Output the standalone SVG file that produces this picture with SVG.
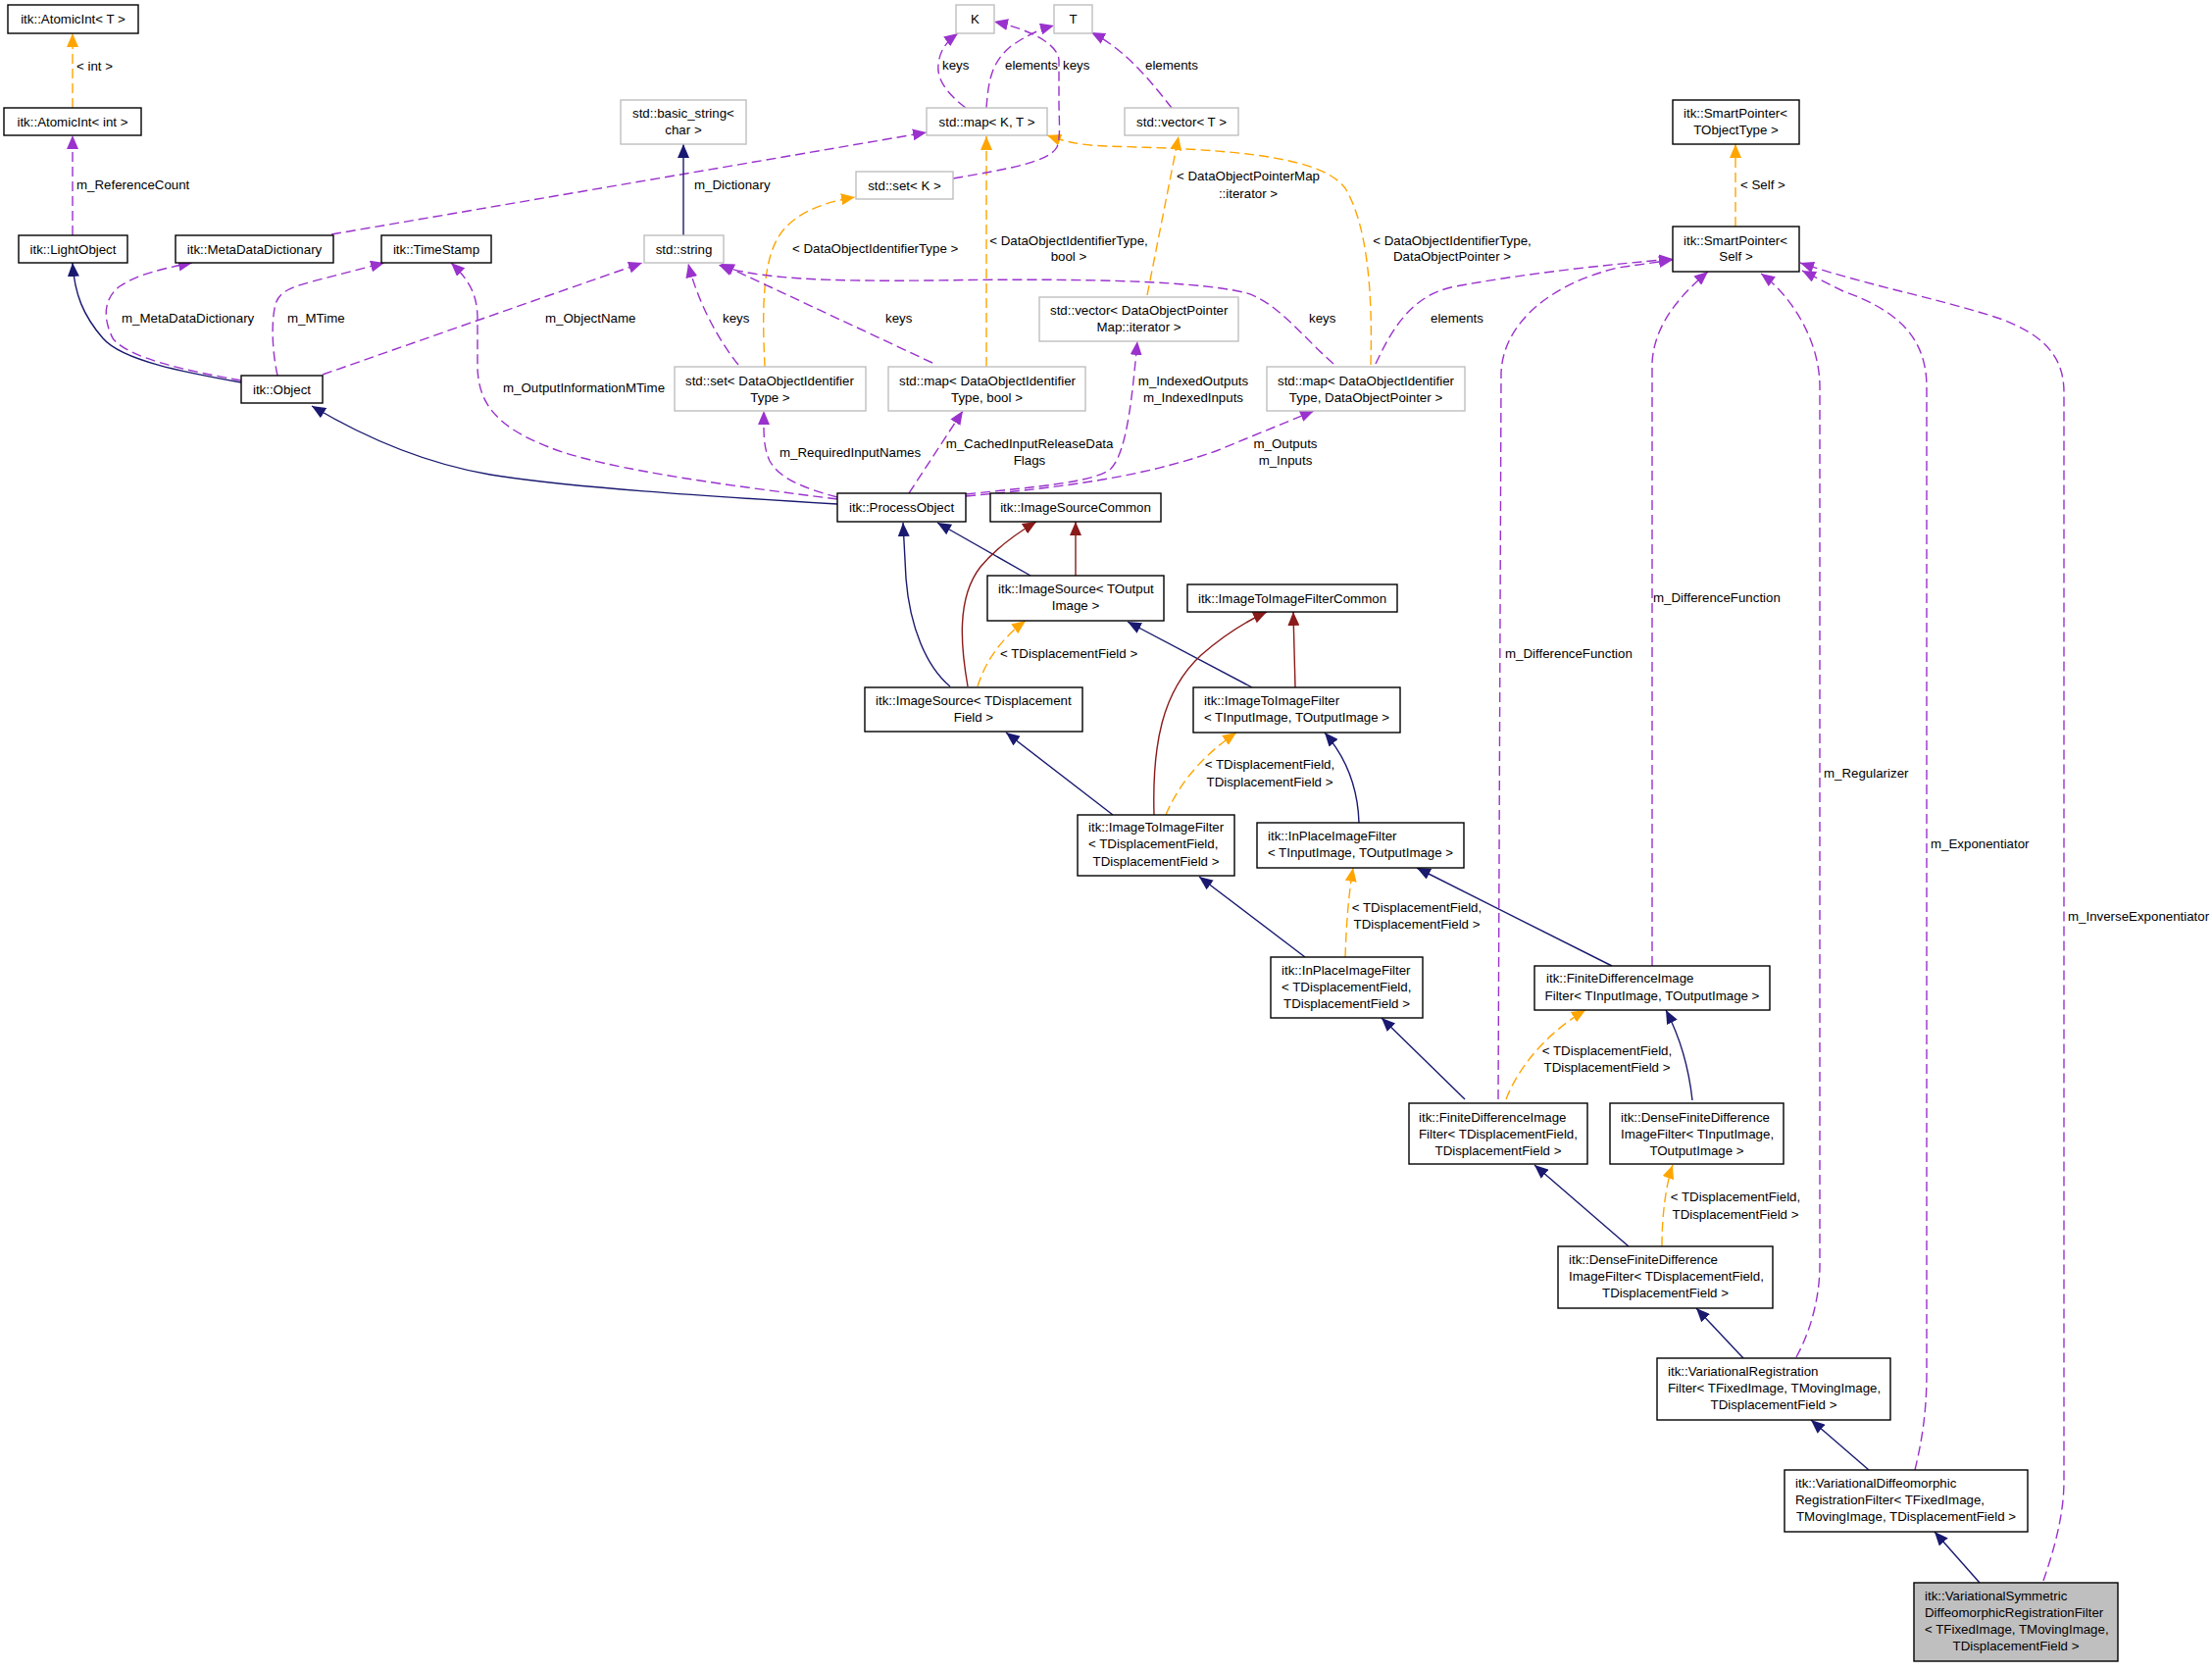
<svg xmlns="http://www.w3.org/2000/svg" width="2256" height="1704" viewBox="0 0 2256 1704">
<style>
text{font-family:"Liberation Sans",Arial,sans-serif;font-size:13.3px;fill:#000}
.c{text-anchor:middle}
.n rect{fill:#fff;stroke:#000;stroke-width:1.4}
.g rect{fill:#fff;stroke:#bfbfbf;stroke-width:1.4}
.s rect{fill:#bfbfbf;stroke:#000;stroke-width:1.4}
.inh{fill:none;stroke:#191970;stroke-width:1.4;marker-end:url(#mb)}
.prv{fill:none;stroke:#8b1a1a;stroke-width:1.4;marker-end:url(#mr)}
.tpl{fill:none;stroke:#ffa500;stroke-width:1.4;stroke-dasharray:10,5;marker-end:url(#mo)}
.use{fill:none;stroke:#9a32cd;stroke-width:1.4;stroke-dasharray:10,5;marker-end:url(#mp)}
</style>
<defs>
<marker id="mb" viewBox="0 0 14 12" refX="14" refY="6" markerWidth="14" markerHeight="12" markerUnits="userSpaceOnUse" orient="auto"><path d="M0,0 L14,6 L0,12 z" fill="#191970"/></marker>
<marker id="mr" viewBox="0 0 14 12" refX="14" refY="6" markerWidth="14" markerHeight="12" markerUnits="userSpaceOnUse" orient="auto"><path d="M0,0 L14,6 L0,12 z" fill="#8b1a1a"/></marker>
<marker id="mo" viewBox="0 0 14 12" refX="14" refY="6" markerWidth="14" markerHeight="12" markerUnits="userSpaceOnUse" orient="auto"><path d="M0,0 L14,6 L0,12 z" fill="#ffa500"/></marker>
<marker id="mp" viewBox="0 0 14 12" refX="14" refY="6" markerWidth="14" markerHeight="12" markerUnits="userSpaceOnUse" orient="auto"><path d="M0,0 L14,6 L0,12 z" fill="#9a32cd"/></marker>
</defs>
<rect width="2256" height="1704" fill="#fff"/>

<g id="connectors">
<path class="tpl" d="M74,110 L74,34"/>
<path class="use" d="M74,240 L74,138"/>
<path class="inh" d="M246,390 C190,380 125,368 105,345 C85,322 76,300 74,268"/>
<path class="use" d="M246,388 C190,378 130,365 115,345 C105,325 105,305 122,292 C140,280 165,274 196,268"/>
<path class="use" d="M283,383 C278,360 276,330 281,310 C286,295 300,292 330,284 L392,268"/>
<path class="use" d="M329,382 L655,268"/>
<path class="inh" d="M854,514 C720,506 580,497 500,484 C430,472 370,445 318,414"/>
<path class="use" d="M854,509 C760,497 620,480 560,456 C505,435 488,410 487,375 L487,325 C487,300 478,285 460,268"/>
<path class="use" d="M854,507 C820,498 795,488 785,470 C778,455 779,440 779,419"/>
<path class="use" d="M927,503 L982,419"/>
<path class="use" d="M985,504 C1060,496 1115,492 1133,478 C1150,460 1155,400 1160,348"/>
<path class="use" d="M985,506 C1080,497 1160,488 1240,460 L1340,419"/>
<path class="tpl" d="M780,374 C778,330 776,275 792,245 C805,220 835,207 872,201"/>
<path class="use" d="M753,372 C735,350 712,310 702,269"/>
<path class="use" d="M951,370 L735,269"/>
<path class="tpl" d="M1006,374 L1006,139"/>
<path class="use" d="M1360,371 C1330,345 1300,305 1268,298 C1210,285 1080,284 950,286 C850,287 770,285 733,270"/>
<path class="use" d="M1403,371 C1420,335 1440,300 1485,292 C1560,278 1640,270 1706,264"/>
<path class="tpl" d="M1398,372 C1400,300 1395,230 1372,192 C1345,155 1230,152 1128,149 C1100,148 1085,144 1068,138"/>
<path class="tpl" d="M1170,301 L1202,139"/>
<path class="use" d="M1195,110 C1175,85 1150,52 1113,33"/>
<path class="use" d="M985,110 C965,95 955,80 957,65 C959,50 966,42 977,34"/>
<path class="use" d="M1006,110 C1008,85 1010,65 1030,48 C1045,37 1060,30 1075,26"/>
<path class="use" d="M972,182 C1030,172 1070,165 1078,150 C1082,140 1080,120 1080,105 L1080,62 C1080,45 1050,30 1014,22"/>
<path class="use" d="M338,239 L945,135"/>
<path class="inh" d="M697,240 L697,147"/>
<path class="tpl" d="M1770,231 L1770,147"/>
<path class="use" d="M1528,1121 L1531,380 C1533,330 1580,290 1650,273 L1706,265"/>
<path class="use" d="M1685,985 L1685,370 C1687,330 1715,300 1742,277"/>
<path class="use" d="M1832,1384 C1848,1355 1856,1320 1856,1290 L1856,395 C1856,345 1825,300 1796,279"/>
<path class="use" d="M1953,1499 C1960,1470 1965,1440 1965,1400 L1965,395 C1965,340 1930,315 1880,297 L1838,276"/>
<path class="use" d="M2084,1612 C2095,1580 2105,1545 2105,1510 L2105,400 C2105,360 2080,340 2040,325 C1980,305 1900,290 1836,268"/>
<path class="inh" d="M1051,587 L956,533"/>
<path class="prv" d="M1097,587 L1097,532"/>
<path class="inh" d="M969,700 C945,680 928,640 924,590 L921,533"/>
<path class="prv" d="M987,700 C980,660 975,610 1000,578 C1015,560 1035,545 1057,532"/>
<path class="tpl" d="M997,700 C1005,675 1020,652 1046,633"/>
<path class="inh" d="M1277,701 L1150,634"/>
<path class="prv" d="M1321,701 L1319,624"/>
<path class="inh" d="M1135,831 L1026,747"/>
<path class="prv" d="M1177,831 C1175,760 1185,705 1225,668 C1248,648 1270,634 1292,624"/>
<path class="tpl" d="M1189,831 C1200,805 1220,775 1261,747"/>
<path class="inh" d="M1386,839 C1385,805 1375,775 1351,747"/>
<path class="inh" d="M1331,976 L1223,894"/>
<path class="tpl" d="M1372,976 C1373,945 1375,915 1380,885"/>
<path class="inh" d="M1644,985 L1445,885"/>
<path class="inh" d="M1494,1121 L1409,1038"/>
<path class="tpl" d="M1536,1121 C1548,1090 1575,1055 1617,1030"/>
<path class="inh" d="M1726,1122 C1722,1085 1712,1055 1699,1030"/>
<path class="inh" d="M1661,1271 L1565,1188"/>
<path class="tpl" d="M1695,1271 C1695,1235 1700,1205 1706,1188"/>
<path class="inh" d="M1778,1385 L1730,1334"/>
<path class="inh" d="M1906,1499 L1847,1448"/>
<path class="inh" d="M2019,1614 L1973,1562"/>
</g>

<g id="edge-labels">
<text x="78" y="72">&lt; int &gt;</text>
<text x="78" y="193">m_ReferenceCount</text>
<text x="124" y="329">m_MetaDataDictionary</text>
<text x="293" y="329">m_MTime</text>
<text x="556" y="329">m_ObjectName</text>
<text x="513" y="400">m_OutputInformationMTime</text>
<text x="961" y="71">keys</text>
<text x="1025" y="71">elements</text>
<text x="1084" y="71">keys</text>
<text x="708" y="193">m_Dictionary</text>
<text x="808" y="258">&lt; DataObjectIdentifierType &gt;</text>
<text class="c" x="1090" y="250">&lt; DataObjectIdentifierType,</text>
<text class="c" x="1090" y="266">bool &gt;</text>
<text x="737" y="329">keys</text>
<text x="903" y="329">keys</text>
<text x="795" y="466">m_RequiredInputNames</text>
<text class="c" x="1050" y="457">m_CachedInputReleaseData</text>
<text class="c" x="1050" y="474">Flags</text>
<text x="1168" y="71">elements</text>
<text class="c" x="1273" y="184">&lt; DataObjectPointerMap</text>
<text class="c" x="1273" y="202">::iterator &gt;</text>
<text class="c" x="1481" y="250">&lt; DataObjectIdentifierType,</text>
<text class="c" x="1481" y="266">DataObjectPointer &gt;</text>
<text x="1335" y="329">keys</text>
<text x="1459" y="329">elements</text>
<text class="c" x="1217" y="393">m_IndexedOutputs</text>
<text class="c" x="1217" y="410">m_IndexedInputs</text>
<text class="c" x="1311" y="457">m_Outputs</text>
<text class="c" x="1311" y="474">m_Inputs</text>
<text x="1775" y="193">&lt; Self &gt;</text>
<text x="1020" y="671">&lt; TDisplacementField &gt;</text>
<text x="1535" y="671">m_DifferenceFunction</text>
<text class="c" x="1295" y="784">&lt; TDisplacementField,</text>
<text class="c" x="1295" y="802">TDisplacementField &gt;</text>
<text class="c" x="1445" y="930">&lt; TDisplacementField,</text>
<text class="c" x="1445" y="947">TDisplacementField &gt;</text>
<text class="c" x="1639" y="1076">&lt; TDisplacementField,</text>
<text class="c" x="1639" y="1093">TDisplacementField &gt;</text>
<text x="1686" y="614">m_DifferenceFunction</text>
<text x="1860" y="793">m_Regularizer</text>
<text x="1969" y="865">m_Exponentiator</text>
<text x="2109" y="939">m_InverseExponentiator</text>
<text class="c" x="1770" y="1225">&lt; TDisplacementField,</text>
<text class="c" x="1770" y="1243">TDisplacementField &gt;</text>
</g>

<g id="AtomicIntT" class="n"><rect x="8" y="5" width="133" height="29"/><text class="c" x="74.5" y="24">itk::AtomicInt&lt; T &gt;</text></g>
<g id="AtomicIntInt" class="n"><rect x="4" y="110" width="140" height="28"/><text class="c" x="74" y="129">itk::AtomicInt&lt; int &gt;</text></g>
<g id="LightObject" class="n"><rect x="19" y="240" width="111" height="28"/><text class="c" x="74.5" y="259">itk::LightObject</text></g>
<g id="MetaDataDictionary" class="n"><rect x="179" y="240" width="161" height="28"/><text class="c" x="259.5" y="259">itk::MetaDataDictionary</text></g>
<g id="TimeStamp" class="n"><rect x="389" y="240" width="112" height="28"/><text class="c" x="445" y="259">itk::TimeStamp</text></g>
<g id="Object" class="n"><rect x="246" y="383" width="83" height="28"/><text class="c" x="287.5" y="402">itk::Object</text></g>
<g id="K" class="g"><rect x="975" y="5" width="39" height="29"/><text class="c" x="994.5" y="24">K</text></g>
<g id="T" class="g"><rect x="1075" y="5" width="39" height="29"/><text class="c" x="1094.5" y="24">T</text></g>
<g id="basic_string" class="g"><rect x="633" y="102" width="128" height="45"/><text x="645" y="120">std::basic_string&lt;</text><text class="c" x="697" y="137">char &gt;</text></g>
<g id="mapKT" class="g"><rect x="945" y="110" width="123" height="28"/><text class="c" x="1006.5" y="129">std::map&lt; K, T &gt;</text></g>
<g id="setK" class="g"><rect x="873" y="175" width="99" height="28"/><text class="c" x="922.5" y="194">std::set&lt; K &gt;</text></g>
<g id="string" class="g"><rect x="657" y="240" width="81" height="28"/><text class="c" x="697.5" y="259">std::string</text></g>
<g id="setDOIT" class="g"><rect x="688" y="374" width="195" height="45"/><text x="699" y="393">std::set&lt; DataObjectIdentifier</text><text class="c" x="785.5" y="410">Type &gt;</text></g>
<g id="mapDOITbool" class="g"><rect x="906" y="374" width="201" height="45"/><text x="917" y="393">std::map&lt; DataObjectIdentifier</text><text class="c" x="1006.5" y="410">Type, bool &gt;</text></g>
<g id="vectorT" class="g"><rect x="1147" y="110" width="116" height="28"/><text class="c" x="1205" y="129">std::vector&lt; T &gt;</text></g>
<g id="vectorDOPMI" class="g"><rect x="1060" y="303" width="203" height="45"/><text x="1071" y="321">std::vector&lt; DataObjectPointer</text><text class="c" x="1161.5" y="338">Map::iterator &gt;</text></g>
<g id="mapDOITDOP" class="g"><rect x="1292" y="374" width="202" height="45"/><text x="1303" y="393">std::map&lt; DataObjectIdentifier</text><text class="c" x="1393" y="410">Type, DataObjectPointer &gt;</text></g>
<g id="SPTObjectType" class="n"><rect x="1706" y="102" width="129" height="45"/><text x="1717" y="120">itk::SmartPointer&lt;</text><text class="c" x="1770.5" y="137">TObjectType &gt;</text></g>
<g id="SPSelf" class="n"><rect x="1706" y="231" width="129" height="46"/><text x="1717" y="250">itk::SmartPointer&lt;</text><text class="c" x="1770.5" y="266">Self &gt;</text></g>
<g id="ProcessObject" class="n"><rect x="854" y="503" width="131" height="29"/><text class="c" x="919.5" y="522">itk::ProcessObject</text></g>
<g id="ImageSourceCommon" class="n"><rect x="1010" y="503" width="174" height="29"/><text class="c" x="1097" y="522">itk::ImageSourceCommon</text></g>
<g id="ImageSourceTOutput" class="n"><rect x="1007" y="587" width="180" height="46"/><text x="1018" y="605">itk::ImageSource&lt; TOutput</text><text class="c" x="1097" y="622">Image &gt;</text></g>
<g id="ITIFCommon" class="n"><rect x="1211" y="596" width="214" height="28"/><text class="c" x="1318" y="615">itk::ImageToImageFilterCommon</text></g>
<g id="ImageSourceTDF" class="n"><rect x="882" y="701" width="222" height="45"/><text x="893" y="719">itk::ImageSource&lt; TDisplacement</text><text class="c" x="993" y="736">Field &gt;</text></g>
<g id="ITIF_TII_TOI" class="n"><rect x="1217" y="701" width="211" height="46"/><text x="1228" y="719">itk::ImageToImageFilter</text><text class="c" x="1322.5" y="736">&lt; TInputImage, TOutputImage &gt;</text></g>
<g id="ITIF_TDF" class="n"><rect x="1099" y="831" width="160" height="62"/><text x="1110" y="848">itk::ImageToImageFilter</text><text x="1110" y="865">&lt; TDisplacementField,</text><text class="c" x="1179" y="883">TDisplacementField &gt;</text></g>
<g id="InPlace_TII_TOI" class="n"><rect x="1282" y="839" width="211" height="46"/><text x="1293" y="857">itk::InPlaceImageFilter</text><text class="c" x="1387.5" y="874">&lt; TInputImage, TOutputImage &gt;</text></g>
<g id="InPlace_TDF" class="n"><rect x="1296" y="976" width="155" height="62"/><text x="1307" y="994">itk::InPlaceImageFilter</text><text x="1307" y="1011">&lt; TDisplacementField,</text><text class="c" x="1373.5" y="1028">TDisplacementField &gt;</text></g>
<g id="FDIF_TII_TOI" class="n"><rect x="1565" y="985" width="240" height="45"/><text x="1577" y="1002">itk::FiniteDifferenceImage</text><text class="c" x="1685" y="1020">Filter&lt; TInputImage, TOutputImage &gt;</text></g>
<g id="FDIF_TDF" class="n"><rect x="1437" y="1125" width="182" height="62"/><text x="1447" y="1144">itk::FiniteDifferenceImage</text><text x="1447" y="1161">Filter&lt; TDisplacementField,</text><text class="c" x="1528" y="1178">TDisplacementField &gt;</text></g>
<g id="DFDIF_TII_TOI" class="n"><rect x="1642" y="1125" width="177" height="62"/><text x="1653" y="1144">itk::DenseFiniteDifference</text><text x="1653" y="1161">ImageFilter&lt; TInputImage,</text><text class="c" x="1730.5" y="1178">TOutputImage &gt;</text></g>
<g id="DFDIF_TDF" class="n"><rect x="1589" y="1271" width="219" height="63"/><text x="1600" y="1289">itk::DenseFiniteDifference</text><text x="1600" y="1306">ImageFilter&lt; TDisplacementField,</text><text class="c" x="1698.5" y="1323">TDisplacementField &gt;</text></g>
<g id="VarReg" class="n"><rect x="1690" y="1385" width="238" height="63"/><text x="1701" y="1403">itk::VariationalRegistration</text><text x="1701" y="1420">Filter&lt; TFixedImage, TMovingImage,</text><text class="c" x="1809" y="1437">TDisplacementField &gt;</text></g>
<g id="VarDiff" class="n"><rect x="1820" y="1499" width="248" height="63"/><text x="1831" y="1517">itk::VariationalDiffeomorphic</text><text x="1831" y="1534">RegistrationFilter&lt; TFixedImage,</text><text class="c" x="1944" y="1551">TMovingImage, TDisplacementField &gt;</text></g>
<g id="VarSym" class="s"><rect x="1952" y="1614" width="208" height="80"/><text x="1963" y="1632">itk::VariationalSymmetric</text><text x="1963" y="1649">DiffeomorphicRegistrationFilter</text><text x="1963" y="1666">&lt; TFixedImage, TMovingImage,</text><text class="c" x="2056" y="1683">TDisplacementField &gt;</text></g>
</svg>
